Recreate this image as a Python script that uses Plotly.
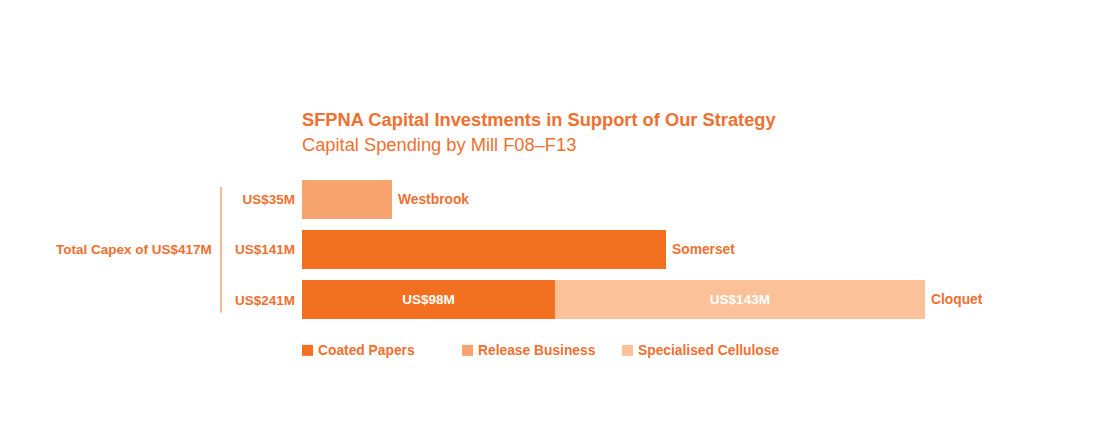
import plotly.graph_objects as go

# Mills, top to bottom
mills = ["Westbrook", "Somerset", "Cloquet"]
mill_totals = ["US$35M", "US$141M", "US$241M"]

# Capital spending by business (US$M) per mill
coated_papers = [0, 141, 98]
release_business = [35, 0, 0]
specialised_cellulose = [0, 0, 143]

# Labels printed inside the bars
coated_labels = ["", "", "US$98M"]
release_labels = ["", "", ""]
cellulose_labels = ["", "", "US$143M"]

businesses = ["Coated Papers", "Release Business", "Specialised Cellulose"]
colors = ["#F37021", "#F8A46E", "#FBC29A"]

total_label = "Total Capex of US$417M"
title = "SFPNA Capital Investments in Support of Our Strategy"
subtitle = "Capital Spending by Mill F08–F13"

orange = "#F07030"
font = "Liberation Sans"

fig = go.Figure()
for name, vals, labels, color in zip(businesses,
                                     [coated_papers, release_business, specialised_cellulose],
                                     [coated_labels, release_labels, cellulose_labels],
                                     colors):
    fig.add_trace(go.Bar(
        name=name, y=mills, x=vals, orientation="h",
        marker=dict(color=color, line_width=0),
        text=labels, textposition="inside", insidetextanchor="middle",
        textfont=dict(color="white", size=13.5, family=font, weight="bold"),
        hoverinfo="skip", showlegend=False,
    ))

# mill names to the right of each bar
totals = [a + b + c for a, b, c in zip(coated_papers, release_business, specialised_cellulose)]
for mill, tot in zip(mills, totals):
    fig.add_annotation(x=tot, y=mill, text=f"<b>{mill}</b>", showarrow=False,
                       xanchor="left", xshift=4,
                       font=dict(color=orange, size=13.8, family=font))

# title block
fig.add_annotation(x=0, y=1.0, xref="paper", yref="paper", yshift=55, xshift=-2,
                   text=f"<b>{title}</b>", showarrow=False, xanchor="left",
                   yanchor="middle", font=dict(color=orange, size=18.3, family=font))
fig.add_annotation(x=0, y=1.0, xref="paper", yref="paper", yshift=30, xshift=-2,
                   text=subtitle, showarrow=False, xanchor="left",
                   yanchor="middle", font=dict(color=orange, size=18.3, family=font))

# total capex bracket on the left
fig.add_shape(type="line", xref="paper", yref="paper",
              x0=-0.1045, x1=-0.1045, y0=0.914, y1=0.0825,
              line=dict(color=orange, width=1))
fig.add_annotation(x=-0.1135, y=0.5, xref="paper", yref="paper",
                   text=f"<b>{total_label}</b>", showarrow=False, xanchor="right",
                   font=dict(color=orange, size=13.5, family=font))

# legend row below the bars (square + label, 160px apart)
legend_y = -0.168
for i, (name, color) in enumerate(zip(businesses, colors)):
    fig.add_shape(type="rect", xref="paper", yref="paper",
                  xsizemode="pixel", ysizemode="pixel",
                  xanchor=0, yanchor=legend_y,
                  x0=160 * i, x1=160 * i + 11, y0=-5.5, y1=5.5,
                  fillcolor=color, line_width=0)
    fig.add_annotation(x=0, y=legend_y, xref="paper", yref="paper",
                       xshift=160 * i + 14, text=f"<b>{name}</b>", showarrow=False,
                       xanchor="left", yanchor="middle",
                       font=dict(color=orange, size=13.8, family=font))

fig.update_layout(
    width=1107, height=446,
    barmode="stack", bargap=0.23,
    plot_bgcolor="white", paper_bgcolor="white",
    margin=dict(l=294, r=38, t=166, b=128.5),
    font=dict(family=font, color=orange),
    xaxis=dict(range=[0, 300], visible=False, fixedrange=True),
    yaxis=dict(autorange="reversed", tickmode="array", tickvals=mills,
               ticktext=[f"<b>{t}</b>" for t in mill_totals],
               tickfont=dict(size=13.5, color=orange, family=font),
               showgrid=False, zeroline=False, showline=False, ticks="",
               ticklabelstandoff=6, fixedrange=True),
    showlegend=False,
)

fig.write_html("out.html")
